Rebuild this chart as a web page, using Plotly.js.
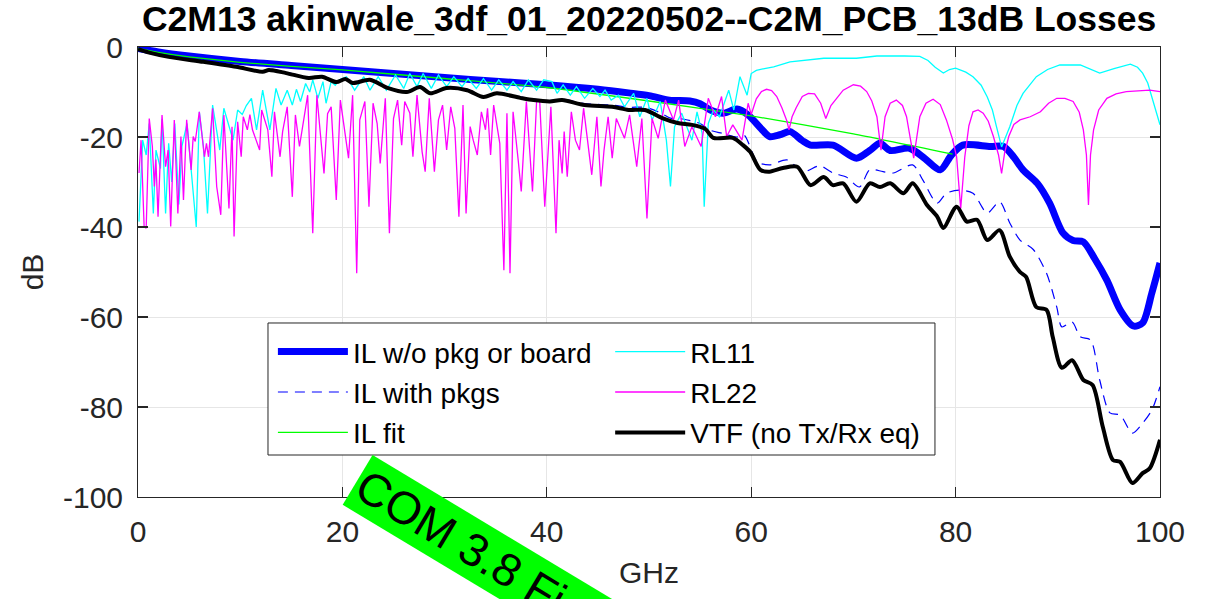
<!DOCTYPE html>
<html><head><meta charset="utf-8">
<script src="https://cdn.plot.ly/plotly-3.0.1.min.js"></script>
<style>html,body{margin:0;padding:0;background:#fff;}#chart{width:1209px;height:599px;}</style>
</head><body><div id="chart"></div>
<script>
// ---- data (GHz, dB) ----
const ilNoPkgF = [0,2,5,10,15,20,25,30,35,40,45,48,50,52,54,55,56,57.3,58.6,59.7,61,61.8,62.8,63.8,65,65.8,68,70.3,71.6,72.6,73.6,75.5,77,78.5,79.6,80.7,83.4,84.7,85.7,86.6,88,89.2,90.5,91.5,92.5,93.6,94.8,96.1,97.4,98.3,99.2,100];
const ilNoPkgDb = [-0.3,-1.1,-2.0,-3.2,-4.1,-5.0,-5.9,-6.8,-7.6,-8.4,-9.4,-10.2,-10.8,-11.8,-12.0,-12.6,-14.0,-14.7,-13.8,-15.1,-18.2,-19.9,-19.5,-18.8,-20.8,-21.8,-21.8,-24.7,-23.0,-21.4,-23.0,-22.5,-24.8,-27.3,-24.0,-21.8,-22.1,-22.1,-24.5,-27.3,-30.3,-34.7,-41.3,-43.0,-43.3,-47.0,-51.8,-58.4,-62.0,-61.3,-54.7,-48.0];

const ilPkgF = [0,1,3,6.4,9.6,12.2,12.8,14.5,16.7,18,19.4,20.3,21,22.7,24.4,26.3,27.6,28.6,30.2,32.2,33.8,35.1,37.4,38.7,40.3,41.5,43.7,46.4,48,49.6,51,52.1,53.3,55,56,57.2,58.6,59.3,60.6,61.8,63.5,65.1,66.7,68,69.3,70.6,71.6,72.9,73.9,75.8,76.8,78.2,79.1,80.4,81.7,83.1,84.3,85.3,86.3,87.6,88.9,89.9,90.4,91.4,92.2,93.2,94.1,95.1,96.1,97.3,98.3,99.2,100];
const ilPkgDb = [-0.3,-1.0,-2.0,-3.1,-4.2,-5.3,-4.9,-5.6,-6.7,-6.4,-7.6,-6.9,-7.8,-7.1,-8.9,-9.8,-8.7,-10.1,-8.9,-9.4,-10.9,-10.1,-11.1,-11.6,-11.9,-11.6,-12.6,-12.9,-13.4,-13.4,-14.5,-15.8,-16.0,-17.0,-18.5,-19.2,-20.0,-19.6,-25.5,-26.2,-25.1,-27.7,-26.4,-28.0,-28.9,-31.1,-27.3,-27.7,-28.0,-26.2,-29.6,-34.7,-32.5,-31.8,-32.5,-36.9,-34.4,-39.1,-42.9,-45.0,-50.3,-57.8,-62.2,-61.1,-64.4,-65.1,-74.0,-81.3,-81.8,-85.8,-83.6,-80.7,-75.5];

const ilFitF = [0,2,5,10,15,20,30,40,50,60,70,79.7];
const ilFitDb = [-0.3,-1.2,-2.2,-3.4,-4.3,-5.1,-7.0,-9.0,-12.0,-15.3,-19.3,-23.8];

const rl11F = [0.1,0.46,0.8,1.1,1.5,1.76,2.2,2.35,2.7,3.0,3.3,3.6,4.0,4.3,4.8,5.2,5.7,6.0,6.4,6.8,7.3,8.0,8.4,9.3,9.75,10.2,10.6,11.1,11.6,12.2,12.9,13.5,14.0,14.6,15.1,15.5,15.9,16.4,16.8,17.1,17.6,18.1,18.4,18.9,19.3,19.7,20.4,21.2,22.1,22.7,23.5,24.3,25.2,26.0,26.6,27.3,27.9,28.7,29.4,30.2,30.9,31.7,32.3,33.1,33.8,34.6,35.3,36.1,36.7,37.5,38.2,39.0,39.7,40.5,41.0,41.6,42.3,42.9,43.7,44.5,45.2,45.7,46.3,47.0,47.6,48.5,49.1,49.8,50.3,51.1,51.7,52.1,52.5,53.2,53.7,54.2,54.7,55.2,55.4,55.8,56.3,56.9,57.8,58.3,58.9,59.6,60.0,60.5,61.3,62.2,63.8,65.5,67.1,70.3,72.3,75.0,76.5,77.3,78.0,78.8,79.4,80.0,81.0,81.7,82.5,83.1,83.6,84.0,84.5,85.3,86.0,86.6,87.9,89.0,90.2,92.2,93.2,94.1,95.5,97.1,97.8,98.3,98.8,99.2,99.6,100];
const rl11Db = [-38.8,-20.7,-24.0,-17.0,-37.0,-22.9,-27.0,-16.0,-37.0,-21.4,-30.0,-17.0,-35.0,-22.0,-17.0,-27.0,-40.0,-14.4,-22.0,-37.0,-12.9,-22.9,-13.6,-20.7,-14.0,-15.0,-13.0,-11.4,-18.4,-9.6,-18.4,-9.2,-12.9,-9.6,-12.9,-9.4,-12.1,-8.1,-10.0,-7.3,-11.4,-7.7,-12.5,-7.7,-8.5,-7.3,-6.6,-9.6,-6.6,-9.6,-6.6,-9.6,-6.2,-9.2,-5.9,-8.8,-5.9,-9.2,-6.2,-8.8,-6.6,-8.8,-7.0,-9.2,-7.0,-9.6,-7.3,-9.6,-7.7,-9.9,-7.3,-9.6,-7.3,-7.7,-10.3,-8.4,-10.7,-8.8,-11.4,-9.2,-11.0,-9.6,-11.8,-10.7,-13.3,-10.3,-15.5,-11.4,-16.2,-12.1,-20.7,-31.0,-17.7,-14.7,-17.7,-20.7,-14.4,-19.2,-35.5,-17.0,-14.0,-15.5,-9.6,-14.0,-6.6,-10.7,-5.9,-5.2,-4.8,-4.4,-3.3,-2.9,-2.5,-2.5,-2.0,-2.0,-2.1,-3.0,-4.5,-5.8,-5.0,-4.7,-5.6,-6.6,-8.5,-11.1,-14.0,-17.7,-22.2,-17.7,-13.0,-10.3,-6.6,-5.0,-4.0,-4.0,-4.9,-5.8,-4.8,-3.8,-4.5,-5.8,-8.0,-11.1,-14.0,-17.3];

const rl22F = [0.1,0.3,0.6,0.8,1.1,1.4,1.6,1.75,1.96,2.35,2.7,2.95,3.2,3.55,3.9,4.2,4.45,4.76,5.2,5.4,5.6,6.0,6.5,6.7,6.9,7.3,7.7,8.1,8.4,8.9,9.2,9.4,9.75,10.1,10.3,10.7,10.95,11.2,11.9,12.1,12.7,13.1,13.35,13.9,14.15,14.6,15.1,15.4,15.8,16.05,16.6,17.1,17.5,18.2,18.55,18.9,19.4,19.8,20.3,20.6,21.0,21.4,21.7,22.2,22.6,23.0,23.4,23.7,24.2,24.6,25.0,25.4,25.8,26.1,26.6,26.9,27.3,27.8,28.1,28.5,29.0,29.4,29.8,30.2,30.6,31.0,31.4,31.8,32.1,32.5,32.8,33.2,33.6,34.0,34.2,34.5,34.8,35.4,35.8,36.1,36.4,36.7,37.2,37.5,38.0,38.6,39.0,39.3,39.8,40.4,40.9,41.2,41.5,41.7,42.0,42.4,42.8,43.2,43.6,44.4,44.9,45.3,45.6,46.0,46.4,46.8,47.6,48.1,48.8,49.3,49.8,50.3,50.9,51.6,52.4,52.9,53.5,54.2,55.1,55.8,56.5,57.1,57.6,58.2,59.1,59.7,60.0,60.5,61.0,61.5,62.0,62.5,63.0,63.5,63.7,64.0,64.4,65.0,65.6,66.2,66.8,67.3,67.8,68.4,69.0,70.0,70.7,71.3,71.8,72.3,72.7,73.1,73.6,74.2,74.8,75.2,75.9,76.5,77.1,77.8,78.5,79.1,79.7,80.1,80.5,80.9,81.3,81.7,82.2,82.7,83.2,83.7,84.2,84.5,84.8,85.2,85.7,86.3,87.3,88.3,89.1,89.9,90.7,91.5,92.1,92.5,92.8,93.0,93.2,93.5,94.0,94.8,95.7,96.7,99.0,100];
const rl22Db = [-28.0,-20.7,-39.9,-40.3,-15.9,-22.0,-31.0,-25.0,-37.7,-15.1,-26.6,-22.9,-39.9,-16.2,-37.0,-19.9,-34.0,-16.2,-27.3,-19.9,-21.0,-14.4,-24.4,-21.4,-24.4,-13.6,-31.0,-37.3,-15.1,-35.9,-17.7,-42.1,-16.6,-24.4,-15.5,-18.4,-15.0,-18.4,-22.9,-14.0,-18.4,-28.8,-14.4,-24.4,-18.8,-13.3,-33.3,-15.1,-22.1,-18.5,-10.7,-41.4,-10.7,-28.1,-14.8,-13.3,-34.0,-11.8,-19.2,-24.7,-10.7,-50.3,-16.2,-12.1,-35.5,-12.5,-17.0,-25.9,-11.4,-41.4,-15.9,-11.8,-21.8,-12.1,-14.7,-24.4,-10.7,-23.3,-27.7,-11.4,-27.7,-16.2,-12.9,-22.9,-13.3,-18.1,-37.7,-12.9,-37.0,-17.7,-20.7,-24.0,-14.4,-18.4,-13.6,-24.0,-12.9,-21.4,-49.6,-14.7,-50.3,-14.4,-25.1,-32.1,-12.1,-32.1,-12.1,-11.8,-35.5,-13.3,-41.4,-20.7,-28.1,-18.8,-28.8,-14.4,-20.7,-22.9,-13.6,-28.4,-15.5,-31.0,-22.9,-15.5,-24.7,-15.9,-20.3,-15.1,-26.6,-15.9,-38.1,-15.9,-20.3,-11.8,-16.2,-11.8,-22.1,-17.7,-22.1,-11.4,-15.5,-11.0,-19.9,-17.3,-20.7,-12.5,-15.0,-11.5,-9.9,-9.4,-9.7,-11.0,-13.5,-16.5,-18.4,-15.5,-13.5,-11.0,-10.3,-10.4,-12.5,-15.9,-13.0,-11.4,-9.6,-8.4,-8.7,-9.9,-12.0,-15.5,-22.9,-15.5,-12.5,-11.8,-13.0,-15.5,-24.7,-15.5,-12.5,-11.6,-12.8,-16.2,-20.5,-24.4,-35.9,-24.4,-17.5,-14.4,-14.0,-14.7,-16.5,-19.9,-24.0,-28.1,-23.5,-19.9,-17.2,-16.2,-15.5,-14.4,-12.5,-11.4,-11.4,-12.1,-14.5,-18.4,-24.0,-35.1,-24.0,-18.4,-14.0,-11.4,-10.4,-9.9,-9.6,-9.9];

const vtfF = [0,1,3,6.4,9.6,12.2,12.8,14.5,16.7,18,19.4,20.3,21,22.7,24.4,26.3,27.6,28.6,30.2,32.2,33.8,35.1,37.4,38.7,40.3,41.5,43.7,46.4,48,49.6,51.3,52.8,54.2,55.5,56.3,58.2,59.2,59.9,60.9,61.8,63.1,64.5,65.8,67.1,68.0,69.0,70.3,71.6,72.6,73.6,74.9,75.8,77.2,78.2,78.8,80.1,81.1,82.1,83.1,84.3,85.3,86.3,86.9,87.9,88.9,89.5,90.4,91.4,92.5,93.4,94.4,95.4,96.1,97.3,98.3,99.0,100];
const vtfDb = [-0.5,-1.2,-2.2,-3.3,-4.4,-5.5,-5.1,-5.8,-6.9,-6.6,-7.8,-7.1,-8.0,-7.3,-9.1,-10.0,-8.9,-10.3,-9.1,-9.6,-11.1,-10.3,-11.3,-11.8,-12.1,-11.8,-12.9,-13.3,-14.0,-14.0,-15.8,-16.9,-17.3,-18.2,-20.2,-20.2,-21.8,-23.3,-27.3,-27.7,-26.9,-26.6,-30.7,-28.9,-30.7,-30.3,-34.4,-30.3,-31.1,-30.3,-32.5,-30.3,-35.1,-37.7,-40.2,-35.5,-38.8,-38.4,-42.9,-40.7,-46.6,-50.0,-51.1,-57.8,-58.4,-64.4,-71.3,-69.6,-74.0,-75.1,-84.4,-91.8,-92.2,-96.9,-94.7,-93.6,-87.3];

const xTicks = [0,20,40,60,80,100];
const yTicks = [-100,-80,-60,-40,-20,0];

const FONT = 'Liberation Sans, Arial, Helvetica, sans-serif';

const traces = [
  {x: ilNoPkgF, y: ilNoPkgDb, name: 'IL w/o pkg or board', mode: 'lines', line: {color: '#0000ff', width: 7, shape: 'spline', smoothing: 0.8}, legend: 'legend', legendgroup: 'a', legendrank: 1},
  {x: ilPkgF, y: ilPkgDb, name: 'IL with pkgs', mode: 'lines', line: {color: '#0000ff', width: 1.2, dash: '10px,7px', shape: 'spline', smoothing: 0.8}, legend: 'legend', legendgroup: 'b', legendrank: 2},
  {x: ilFitF, y: ilFitDb, name: 'IL fit', mode: 'lines', line: {color: '#00ff00', width: 1.3, shape: 'spline', smoothing: 0.5}, legend: 'legend', legendgroup: 'c', legendrank: 3},
  {x: rl11F, y: rl11Db, name: 'RL11', mode: 'lines', line: {color: '#00ffff', width: 1.3}, legend: 'legend2', legendgroup: 'd', legendrank: 4},
  {x: rl22F, y: rl22Db, name: 'RL22', mode: 'lines', line: {color: '#ff00ff', width: 1.3}, legend: 'legend2', legendgroup: 'e', legendrank: 5},
  {x: vtfF, y: vtfDb, name: 'VTF (no Tx/Rx eq)', mode: 'lines', line: {color: '#000000', width: 4, shape: 'spline', smoothing: 0.8}, legend: 'legend2', legendgroup: 'f', legendrank: 6}
];

const axisCommon = {
  showline: true, linecolor: '#262626', linewidth: 1, mirror: 'ticks',
  ticks: 'inside', ticklen: 10, tickwidth: 1.3, tickcolor: '#262626',
  showgrid: true, gridcolor: '#e6e6e6', gridwidth: 1, zeroline: false,
  tickfont: {family: FONT, size: 30, color: '#262626'}
};

const legendCommon = {
  bgcolor: 'rgba(0,0,0,0)', borderwidth: 0, font: {family: FONT, size: 28, color: '#000'},
  itemwidth: 70, tracegroupgap: 1, xanchor: 'left', yanchor: 'top', itemclick: false
};

const layout = {
  width: 1209, height: 599, autosize: false,
  margin: {l: 138, r: 49, t: 47, b: 102, pad: 0},
  paper_bgcolor: '#ffffff', plot_bgcolor: '#ffffff',
  showlegend: true,
  title: {text: '<b>C2M13 akinwale_3df_01_20220502--C2M_PCB_13dB Losses</b>', font: {family: FONT, size: 35.5, color: '#000'}, x: 0.5369, xanchor: 'center', y: 0.99, yanchor: 'top'},
  xaxis: Object.assign({}, axisCommon, {range: [0, 100], tickvals: xTicks, ticktext: xTicks.map(String), ticklabelstandoff: 8,
    title: {text: 'GHz', font: {family: FONT, size: 30, color: '#262626'}, standoff: 14}}),
  yaxis: Object.assign({}, axisCommon, {range: [-100, 0], tickvals: yTicks, ticktext: yTicks.map(String), ticklabelstandoff: 8,
    title: {text: 'dB', font: {family: FONT, size: 30, color: '#262626'}, standoff: 10}}),
  legend: Object.assign({}, legendCommon, {x: 0.132, y: 0.378}),
  legend2: Object.assign({}, legendCommon, {x: 0.462, y: 0.378}),
  shapes: [
    {type: 'rect', xref: 'paper', yref: 'paper', x0: 0.1272, x1: 0.7798, y0: 0.0933, y1: 0.3867,
     line: {color: '#262626', width: 1}, fillcolor: '#ffffff', layer: 'above'}
  ],
  annotations: [
    {xref: 'paper', yref: 'paper', x: 0.2006, y: 0.0933, xanchor: 'left', yanchor: 'top',
     text: 'COM 3.8 Fi&nbsp;&nbsp;&nbsp;&nbsp;&nbsp;&nbsp;', showarrow: false, textangle: 31,
     font: {family: FONT, size: 46, color: '#000'}, bgcolor: '#00ff00', borderpad: 3, borderwidth: 0}
  ]
};

Plotly.newPlot('chart', traces, layout, {displayModeBar: false, staticPlot: true});
</script></body></html>
